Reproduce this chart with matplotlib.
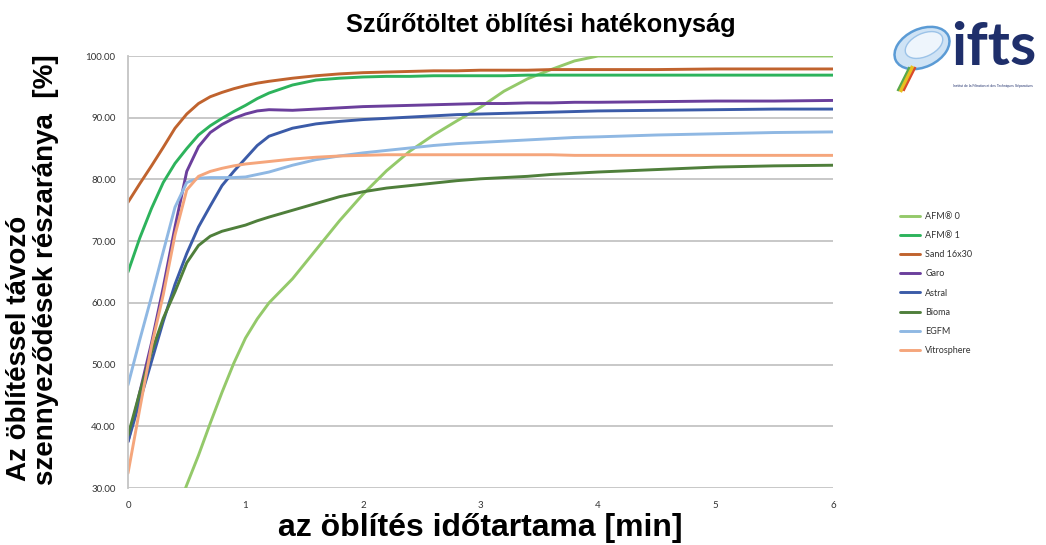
import numpy as np
import matplotlib
matplotlib.use("Agg")
import matplotlib.pyplot as plt
from matplotlib.patches import Ellipse

plt.rcParams['font.family'] = ['Liberation Sans', 'DejaVu Sans']

nan = np.nan
t = [0, 0.1, 0.2, 0.3, 0.4, 0.5, 0.6, 0.7, 0.8, 0.9, 1.0, 1.1, 1.2, 1.4, 1.6, 1.8,
     2.0, 2.2, 2.4, 2.6, 2.8, 3.0, 3.2, 3.4, 3.6, 3.8, 4.0, 4.5, 5.0, 5.5, 6.0]

afm0 = [nan, nan, nan, nan, 25.5, 30.5, 35.3, 40.5, 45.5, 50.2, 54.3, 57.4, 60.0, 63.9, 68.6, 73.3,
        77.6, 81.4, 84.6, 87.2, 89.5, 91.7, 94.3, 96.3, 97.8, 99.2, 100, 100, 100, 100, 100]
afm1 = [65.0, 70.5, 75.3, 79.5, 82.6, 85.0, 87.2, 88.7, 89.9, 91.0, 92.0, 93.1, 94.0, 95.3, 96.1, 96.4,
        96.6, 96.7, 96.7, 96.8, 96.8, 96.8, 96.8, 96.9, 96.9, 96.9, 96.9, 96.9, 96.9, 96.9, 96.9]
sand = [76.3, 79.3, 82.2, 85.2, 88.3, 90.6, 92.3, 93.4, 94.1, 94.7, 95.2, 95.6, 95.9, 96.4, 96.8, 97.1,
        97.3, 97.4, 97.5, 97.6, 97.6, 97.7, 97.7, 97.7, 97.8, 97.8, 97.8, 97.8, 97.9, 97.9, 97.9]
garo = [37.5, 45.5, 53.5, 62.5, 72.3, 81.3, 85.3, 87.6, 88.9, 89.9, 90.6, 91.1, 91.3, 91.2, 91.4, 91.6,
        91.8, 91.9, 92.0, 92.1, 92.2, 92.3, 92.3, 92.4, 92.4, 92.5, 92.5, 92.6, 92.7, 92.7, 92.8]
astral = [37.5, 44.0, 50.5, 57.0, 63.0, 68.0, 72.3, 75.7, 79.0, 81.3, 83.4, 85.5, 87.0, 88.3, 89.0, 89.4,
          89.7, 89.9, 90.1, 90.3, 90.5, 90.6, 90.7, 90.8, 90.9, 91.0, 91.1, 91.2, 91.3, 91.4, 91.4]
bioma = [38.5, 45.5, 52.0, 57.5, 61.8, 66.5, 69.3, 70.8, 71.6, 72.1, 72.6, 73.3, 73.9, 75.0, 76.1, 77.2,
         78.0, 78.6, 79.0, 79.4, 79.8, 80.1, 80.3, 80.5, 80.8, 81.0, 81.2, 81.6, 82.0, 82.2, 82.3]
egfm = [46.7, 54.0, 61.0, 68.3, 75.5, 79.5, 80.2, 80.3, 80.3, 80.3, 80.4, 80.8, 81.2, 82.3, 83.2, 83.8,
        84.3, 84.7, 85.1, 85.5, 85.8, 86.0, 86.2, 86.4, 86.6, 86.8, 86.9, 87.2, 87.4, 87.6, 87.7]
vitro = [32.4, 42.8, 53.0, 61.3, 71.0, 78.3, 80.5, 81.3, 81.8, 82.2, 82.5, 82.7, 82.9, 83.3, 83.6, 83.8,
         83.9, 84.0, 84.0, 84.0, 84.0, 84.0, 84.0, 84.0, 84.0, 83.9, 83.9, 83.9, 83.9, 83.9, 83.9]

labels = ["AFM\u00ae 0", "AFM\u00ae 1", "Sand 16x30", "Garo", "Astral", "Bioma", "EGFM", "Vitrosphere"]
series = [afm0, afm1, sand, garo, astral, bioma, egfm, vitro]
colors = ["#94c96a", "#2db35c", "#c0632e", "#6b3f9c", "#3b5ba8", "#4f7f3b", "#8fb8e3", "#f5a67c"]

xticks = [0, 1, 2, 3, 4, 5, 6]
yticks = [30, 40, 50, 60, 70, 80, 90, 100]

fig = plt.figure(figsize=(10.46, 5.45), dpi=100)
ax = fig.add_axes([128/1046, 1-488/545, (833-128)/1046, (488-56)/545])

for y, lab, c in zip(series, labels, colors):
    ax.plot(t, y, color=c, lw=2.1, label=lab, solid_capstyle='round', solid_joinstyle='round')

ax.set_xlim(0, 6)
ax.set_ylim(30, 100)
ax.set_xticks(xticks)
ax.set_yticks(yticks)
ax.set_yticklabels([f"{v:.2f}" for v in yticks])
ax.grid(axis='y', color='#c4c4c4', lw=1.3)
ax.set_axisbelow(True)
for s in ['top', 'right', 'bottom']:
    ax.spines[s].set_visible(False)
ax.spines['left'].set_color('#c4c4c4')
ax.spines['left'].set_linewidth(1.3)
ax.tick_params(length=0, labelsize=7, colors='#333333', pad=9)
for lbl in ax.get_xticklabels() + ax.get_yticklabels():
    lbl.set_fontfamily(['Lato', 'DejaVu Sans'])

leg = ax.legend(loc='upper left', bbox_to_anchor=(892/1046, 1-204/545), bbox_transform=fig.transFigure,
                frameon=False, fontsize=6.5, handlelength=2.2, labelspacing=1.12, handletextpad=0.6)
for txt in leg.get_texts():
    txt.set_color('#333333')
    txt.set_fontfamily(['Lato', 'DejaVu Sans'])

fig.text(541/1046, 1-25/545, "Szűrőtöltet öblítési hatékonyság", ha='center', va='center',
         fontsize=18.3, fontweight='bold')
fig.text(480/1046, 1-528/545, "az öblítés időtartama [min]", ha='center', va='center',
         fontsize=23, fontweight='bold')
fig.text(19/1046, 1-348/545, "Az öblítéssel távozó", ha='center', va='center', rotation=90,
         fontsize=20, fontweight='bold')
fig.text(46/1046, 1-270/545, "szennyeződések részaránya  [%]", ha='center', va='center', rotation=90,
         fontsize=20, fontweight='bold')

# logo
lax = fig.add_axes([880/1046, 1-95/545, 166/1046, 90/545])
lax.set_xlim(0, 166)
lax.set_ylim(0, 90)
lax.axis('off')
lax.add_patch(Ellipse((42, 47), 58, 38, angle=25, facecolor='#cfe3f5', edgecolor='#5b9bd5', lw=1.8))
lax.add_patch(Ellipse((44, 50), 40, 23, angle=25, facecolor='#eef5fc', edgecolor='#9cc3e8', lw=1))
lax.plot([32, 26, 21], [27, 15, 5], color='#e8c020', lw=3)
lax.plot([35, 29, 24], [27, 15, 5], color='#d94a2a', lw=1.6)
lax.plot([29, 23, 18], [27, 15, 5], color='#5aa84a', lw=1.6)
lax.text(71, 47, "ifts", fontsize=43, color='#1f2f6b', fontweight='bold', va='center', ha='left',
         family=['Lato', 'DejaVu Sans'])
lax.text(73, 9, "Institut de la Filtration et des Techniques Séparatives", fontsize=2.4, color='#1f2f6b',
         va='center', ha='left')

fig.savefig("out.png", dpi=100)
